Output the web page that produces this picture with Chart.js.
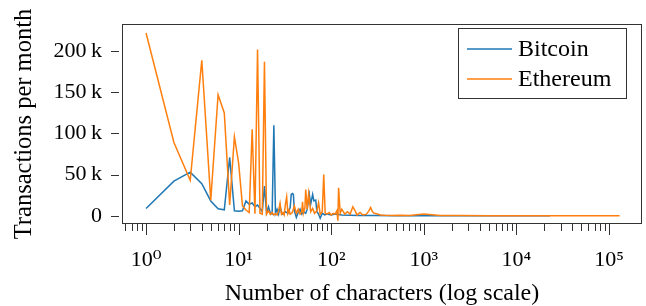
<!DOCTYPE html>
<html>
<head>
<meta charset="utf-8">
<script src="https://cdn.jsdelivr.net/npm/chart.js@4.4.0/dist/chart.umd.min.js"></script>
<style>
  html, body { margin: 0; padding: 0; background: #fff; }
  canvas { display: block; }
</style>
</head>
<body>
<canvas id="chart" width="646" height="306"></canvas>
<script>
// message length in characters and transactions per month
const bitcoinLength = [1, 2, 3, 4, 5, 6, 7, 8, 9, 10, 11, 12, 13, 14, 15, 16, 17, 18, 19, 20,
  21, 22, 23, 24, 25, 26, 27, 28, 29, 30, 32, 34, 36, 37, 38, 39, 40, 42, 44, 46, 48, 50,
  53, 55, 58, 60, 63, 65, 68, 70, 73, 76, 80, 85, 90, 100, 110, 130, 160, 200, 300, 500,
  1000, 3000, 10000, 23000];
const bitcoinTx = [8900, 42000, 53000, 39000, 18000, 8500, 7300, 71000, 6000, 5500, 6000,
  18000, 14000, 15500, 11000, 13000, 9000, 5000, 36000, 3500, 11000, 3000, 2000, 110000,
  3000, 8000, 2000, 12000, 4000, 2000, 5000, 3000, 10000, 26000, 27000, 26000, 6000, -2000,
  4000, 8000, 2000, 5000, 3000, 8000, 26000, 14000, 26000, 18000, 19000, 5000, 2000, -3000,
  3000, 1000, 2000, 1000, 2000, 1000, 500, 200, 300, 100, 100, 0, 0, 0];

const ethereumLength = [1, 2, 3, 4, 5, 6, 7, 8, 9, 10, 11, 12, 13, 14, 15, 16, 17, 18, 19, 20,
  21, 22, 23, 24, 25, 26, 27, 28, 29, 30, 31, 32, 33, 34, 35, 36, 38, 40, 42, 44, 46, 48, 49,
  50, 52, 53, 55, 57, 60, 63, 66, 70, 73, 76, 80, 83, 86, 90, 95, 100, 105, 110, 115, 118,
  120, 125, 130, 140, 150, 160, 171, 181, 190, 205, 220, 240, 255, 266, 278, 290, 310, 340,
  380, 450, 550, 700, 1000, 1500, 2500, 5000, 10000, 25000, 60000, 130000];
const ethereumTx = [222000, 89000, 43000, 189000, 19000, 147000, 125000, 13000, 96000, 64000,
  12000, 7000, 4000, 105000, 2500, 202000, 3000, 2000, 187000, 2000, 6000, 1500, 4000, 1000,
  2500, 1000, 6000, 15000, 2000, 4000, 1000, 14000, 23000, 3000, 7000, 2000, 4000, 12000, 3000,
  8000, 2000, 5000, 17000, 3000, 10000, 32000, 8000, 27000, 5000, 9000, 3000, 6000, 16000,
  2000, 5000, 50000, 3000, 2000, 4000, 1000, 3000, 2000, 6000, -6000, 34000, 3000, 8000, 2000,
  5000, 2000, 11000, 6000, 1000, 4000, 1000, 2000, 6000, 10000, 5000, 3000, 2500, 1000, 500,
  300, 500, 200, 2000, 300, 200, 100, 100, 100, 0, 0];

const seriesNames = ["Bitcoin", "Ethereum"];
const seriesColors = ["#1f77b4", "#ff7f0e"];

const yTickValues = [0, 50000, 100000, 150000, 200000];
const xMajorTicks = [1, 10, 100, 1000, 10000, 100000];
const xTickLabels = ["10\u2070", "10\u00b9", "10\u00b2", "10\u00b3", "10\u2074", "10\u2075"];

const FONT = "'Liberation Serif', 'DejaVu Serif', serif";
Chart.defaults.font.family = FONT;
Chart.defaults.color = "#000";

function toPoints(xs, ys) {
  return xs.map((x, i) => ({ x: x, y: ys[i] }));
}

// frame round the plot plus the outside tick marks (long for decades, short otherwise)
const axisMarks = {
  id: "axisMarks",
  afterDraw(chart) {
    const { ctx, chartArea: a, scales } = chart;
    ctx.save();
    ctx.strokeStyle = "#333";
    ctx.lineWidth = 1;
    ctx.strokeRect(a.left + 0.5, a.top + 0.5, a.right - a.left - 1, a.bottom - a.top - 1);

    ctx.beginPath();
    scales.y.ticks.forEach((t) => {
      const py = Math.round(scales.y.getPixelForValue(t.value)) + 0.5;
      ctx.moveTo(a.left - 11, py);
      ctx.lineTo(a.left - 3, py);
    });
    scales.x.ticks.forEach((t) => {
      const px = Math.round(scales.x.getPixelForValue(t.value)) + 0.5;
      const len = xMajorTicks.includes(t.value) ? 11 : 7;
      ctx.moveTo(px, a.bottom);
      ctx.lineTo(px, a.bottom + len);
    });
    ctx.stroke();
    ctx.restore();
  },
};

// boxed legend in the upper right corner of the plot
const boxLegend = {
  id: "boxLegend",
  afterDraw(chart) {
    const { ctx, chartArea: a } = chart;
    const w = 169, h = 71;
    const x0 = a.right - 15 - w, y0 = a.top + 4;
    ctx.save();
    ctx.fillStyle = "#fff";
    ctx.fillRect(x0, y0, w, h);
    ctx.strokeStyle = "#333";
    ctx.lineWidth = 1;
    ctx.strokeRect(x0 + 0.5, y0 + 0.5, w - 1, h - 1);
    ctx.font = "24px " + FONT;
    ctx.textBaseline = "middle";
    ctx.fillStyle = "#000";
    chart.data.datasets.forEach((ds, i) => {
      const cy = y0 + 21 + i * 30;
      ctx.strokeStyle = ds.borderColor;
      ctx.lineWidth = 1.5;
      ctx.beginPath();
      ctx.moveTo(x0 + 9, cy);
      ctx.lineTo(x0 + 54, cy);
      ctx.stroke();
      ctx.fillText(ds.label, x0 + 60, cy + 1);
    });
    ctx.restore();
  },
};

new Chart(document.getElementById("chart"), {
  type: "line",
  data: {
    datasets: [
      {
        label: seriesNames[0],
        data: toPoints(bitcoinLength, bitcoinTx),
        borderColor: seriesColors[0],
        borderWidth: 1.5,
        order: 1,
      },
      {
        label: seriesNames[1],
        data: toPoints(ethereumLength, ethereumTx),
        borderColor: seriesColors[1],
        borderWidth: 1.5,
        order: 0,
      },
    ],
  },
  options: {
    responsive: false,
    devicePixelRatio: 1,
    animation: false,
    events: [],
    elements: { point: { radius: 0 }, line: { tension: 0 } },
    layout: { padding: { top: 24, right: 4, left: 0, bottom: 0 } },
    plugins: { legend: { display: false }, tooltip: { enabled: false } },
    scales: {
      x: {
        type: "logarithmic",
        min: 0.55,
        max: 227000,
        grid: { display: false, drawTicks: false },
        border: { display: false },
        afterFit(scale) {
          scale.height = 82;
          scale.paddingLeft = 0;
          scale.paddingRight = 0;
        },
        afterBuildTicks(scale) {
          const ticks = [];
          [0.1, 1, 10, 100, 1000, 10000].forEach((d) => {
            for (let m = 1; m < 10; m++) {
              const v = Math.round(m * d * 10) / 10;
              if (v >= 0.6) ticks.push({ value: v });
            }
          });
          ticks.push({ value: 100000 });
          scale.ticks = ticks;
        },
        ticks: {
          autoSkip: false,
          maxRotation: 0,
          padding: 23,
          font: { size: 22 },
          callback(value) {
            const i = xMajorTicks.indexOf(value);
            return i >= 0 ? xTickLabels[i] : "";
          },
        },
        title: {
          display: true,
          text: "Number of characters (log scale)",
          font: { size: 24, lineHeight: 1 },
          padding: { top: 0, bottom: 0 },
        },
      },
      y: {
        min: -10000,
        max: 233000,
        grid: { display: false, drawTicks: false },
        border: { display: false },
        afterFit(scale) {
          scale.width = 122;
          scale.paddingTop = 0;
          scale.paddingBottom = 0;
        },
        afterBuildTicks(scale) {
          scale.ticks = yTickValues.map((v) => ({ value: v }));
        },
        ticks: {
          padding: 20,
          font: { size: 22 },
          callback(value) {
            return value === 0 ? "0" : value / 1000 + "\u2009k";
          },
        },
        title: {
          display: true,
          text: "Transactions per month",
          font: { size: 24.5, lineHeight: 1 },
          padding: { top: 12, bottom: 0 },
        },
      },
    },
  },
  plugins: [axisMarks, boxLegend],
});
</script>
</body>
</html>
